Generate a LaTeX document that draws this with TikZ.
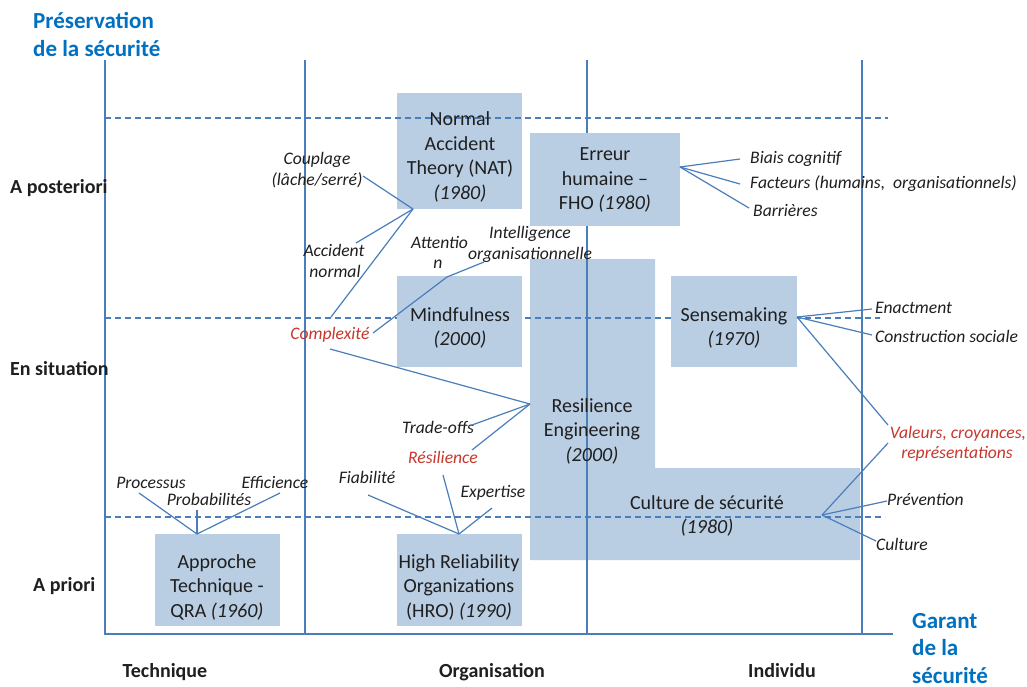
\documentclass[tikz,border=0pt]{standalone}
\usepackage{fontspec}
\setmainfont{Carlito}
\definecolor{boxblue}{HTML}{B9CDE3}
\definecolor{lineblue}{HTML}{4A7EBB}
\definecolor{redl}{HTML}{C8372D}
\definecolor{titleblue}{HTML}{0070C0}
\definecolor{txt}{HTML}{1F1F1F}
\begin{document}
\begin{tikzpicture}[x=1pt,y=-1pt,
  box/.style={fill=boxblue,draw=none,inner sep=0pt,anchor=north west},
  btxt/.style={font=\fontsize{20}{24.5}\selectfont,align=center,text=txt,inner sep=0pt,anchor=base},
  lbl/.style={font=\fontsize{17.6}{21}\selectfont\itshape,text=txt,inner sep=0pt,anchor=base},
  lblw/.style={lbl,anchor=base west},
  rlbl/.style={lbl,text=redl},
  rowlbl/.style={font=\fontsize{20}{24}\selectfont\bfseries,text=txt,inner sep=0pt,anchor=base west},
  collbl/.style={font=\fontsize{20}{24}\selectfont\bfseries,text=txt,inner sep=0pt,anchor=base},
  ttl/.style={font=\fontsize{23}{27.5}\selectfont\bfseries,text=titleblue,inner sep=0pt,anchor=base west,align=left},
  conn/.style={draw=lineblue,line width=1.2pt},
  axisline/.style={draw=lineblue,line width=1.3pt},
  dline/.style={draw=lineblue,line width=1.2pt,dash pattern=on 6pt off 4pt},
]
\fill[white] (0,0) rectangle (1027,686);
\useasboundingbox (0,0) rectangle (1027,686);

% boxes under the grid
\fill[boxblue] (530,259) -- (655,259) -- (655,468) -- (860,468) -- (860,560) -- (530,560) -- cycle;
\node[box,minimum width=125pt,minimum height=116pt] (natbox) at (397,93) {};

% grid
\draw[axisline] (105,60) -- (105,634) -- (893,634);
\draw[axisline] (305,60) -- (305,634);
\draw[axisline] (587,60) -- (587,634);
\draw[axisline] (862,60) -- (862,634);
\draw[dline] (105,118) -- (888,118);
\draw[dline] (105,318) -- (880,318);
\draw[dline] (105,517) -- (885,517);

% boxes over the grid
\node[box,minimum width=150pt,minimum height=93pt] (errbox) at (530,133) {};
\node[box,minimum width=125pt,minimum height=91pt] (mindbox) at (397,276) {};
\node[box,minimum width=126pt,minimum height=91pt] (sensebox) at (671,276) {};
\node[box,minimum width=125pt,minimum height=92pt] (qrabox) at (155,534) {};
\node[box,minimum width=125pt,minimum height=92pt] (hrobox) at (397,534) {};

% box texts (anchor = baseline of the last line)
\node[btxt] (nat) at (460,199) {Normal\\Accident\\Theory (NAT)\\\textit{(1980)}};
\node[btxt] (err) at (605,209.5) {Erreur\\humaine –\\FHO \textit{(1980)}};
\node[btxt] (mind) at (460,345.5) {Mindfulness\\\textit{(2000)}};
\node[btxt] (res) at (592,461) {Resilience\\Engineering\\\textit{(2000)}};
\node[btxt] (sense) at (734,345.5) {Sensemaking\\\textit{(1970)}};
\node[btxt] (cult) at (707,533.5) {Culture de sécurité\\\textit{(1980)}};
\node[btxt] (qra) at (217,617) {Approche\\Technique -\\QRA \textit{(1960)}};
\node[btxt] (hro) at (459,617) {High Reliability\\Organizations\\(HRO) \textit{(1990)}};

% titles and axis labels
\node[ttl] (pres) at (33,56) {Préservation\\de la sécurité};
\node[ttl] (garant) at (912,683) {Garant\\de la\\sécurité};
\node[rowlbl] (post) at (10,193) {A posteriori};
\node[rowlbl] (situ) at (10,375) {En situation};
\node[rowlbl] (prio) at (33,591) {A priori};
\node[collbl] (tech) at (165,677) {Technique};
\node[collbl] (orga) at (492,677) {Organisation};
\node[collbl] (indiv) at (782,677) {Individu};

% italic labels
\node[lbl] (coup1) at (317,164) {Couplage};
\node[lbl] (coup2) at (317,185) {(lâche/serré)};
\node[lbl] (acc1) at (334,256) {Accident};
\node[lbl] (acc2) at (335,277) {normal};
\node[lblw] (att1) at (411,248) {Attentio};
\node[lbl] (att2) at (438,268) {n};
\node[lbl] (int1) at (530,238) {Intelligence};
\node[lbl] (int2) at (530,259) {organisationnelle};
\node[rlbl] (compl) at (330,339) {Complexité};
\node[lbl] (trade) at (438,433) {Trade-offs};
\node[rlbl] (resil) at (443,463) {Résilience};
\node[lbl] (fiab) at (367,483) {Fiabilité};
\node[lbl] (expe) at (493,497) {Expertise};
\node[lbl] (proc) at (151,488) {Processus};
\node[lbl] (proba) at (209,505) {Probabilités};
\node[lbl] (effi) at (275,488) {Efficience};
\node[lblw] (biais) at (750,163) {Biais cognitif};
\node[lblw] (fact) at (750,188) {Facteurs (humains,\ \ organisationnels)};
\node[lblw] (barr) at (753,216) {Barrières};
\node[lblw] (enact) at (875,313) {Enactment};
\node[lblw] (constr) at (875,342) {Construction sociale};
\node[rlbl] (val1) at (958,438) {Valeurs, croyances,};
\node[rlbl] (val2) at (957,458) {représentations};
\node[lblw] (prev) at (887,505) {Prévention};
\node[lblw] (cultl) at (876,550) {Culture};

% junction points
\coordinate (natp) at (413,209);
\coordinate (errp) at (680,167);
\coordinate (resp) at (530,404);
\coordinate (sensep) at (797,317);
\coordinate (cultp) at (822,515);
\coordinate (qrap) at (197,534);
\coordinate (hrop) at (459,534);
\coordinate (intk) at (447,277);
% label end points
\coordinate (coupE) at (363,176);
\coordinate (accE) at (356,243);
\coordinate (complT) at (331,317);
\coordinate (complR) at (373,333);
\coordinate (complB) at (330,349);
\coordinate (intE) at (484,262);
\coordinate (tradeE) at (472,425);
\coordinate (resilE) at (472,450);
\coordinate (resilB) at (443,475);
\coordinate (fiabE) at (368,495);
\coordinate (expeE) at (492,508);
\coordinate (procE) at (139,493);
\coordinate (probaE) at (197,510);
\coordinate (effiE) at (280,493);
\coordinate (biaisE) at (740,159);
\coordinate (factE) at (740,184);
\coordinate (barrE) at (749,208);
\coordinate (enactE) at (872,309);
\coordinate (constrE) at (872,335);
\coordinate (valE1) at (888,425);
\coordinate (valE2) at (888,443);
\coordinate (prevE) at (887,501);
\coordinate (cultE) at (876,541);

% connectors
\draw[conn] (coupE) -- (natp);
\draw[conn] (accE) -- (natp);
\draw[conn] (complT) -- (natp);
\draw[conn] (complR) -- (intk) -- (intE);
\draw[conn] (complB) -- (resp);
\draw[conn] (tradeE) -- (resp);
\draw[conn] (resilE) -- (resp);
\draw[conn] (resilB) -- (hrop);
\draw[conn] (fiabE) -- (hrop);
\draw[conn] (expeE) -- (hrop);
\draw[conn] (procE) -- (qrap);
\draw[conn] (probaE) -- (qrap);
\draw[conn] (effiE) -- (qrap);
\draw[conn] (errp) -- (biaisE);
\draw[conn] (errp) -- (factE);
\draw[conn] (errp) -- (barrE);
\draw[conn] (sensep) -- (enactE);
\draw[conn] (sensep) -- (constrE);
\draw[conn] (sensep) -- (valE1);
\draw[conn] (valE2) -- (cultp);
\draw[conn] (cultp) -- (prevE);
\draw[conn] (cultp) -- (cultE);
\end{tikzpicture}
\end{document}
